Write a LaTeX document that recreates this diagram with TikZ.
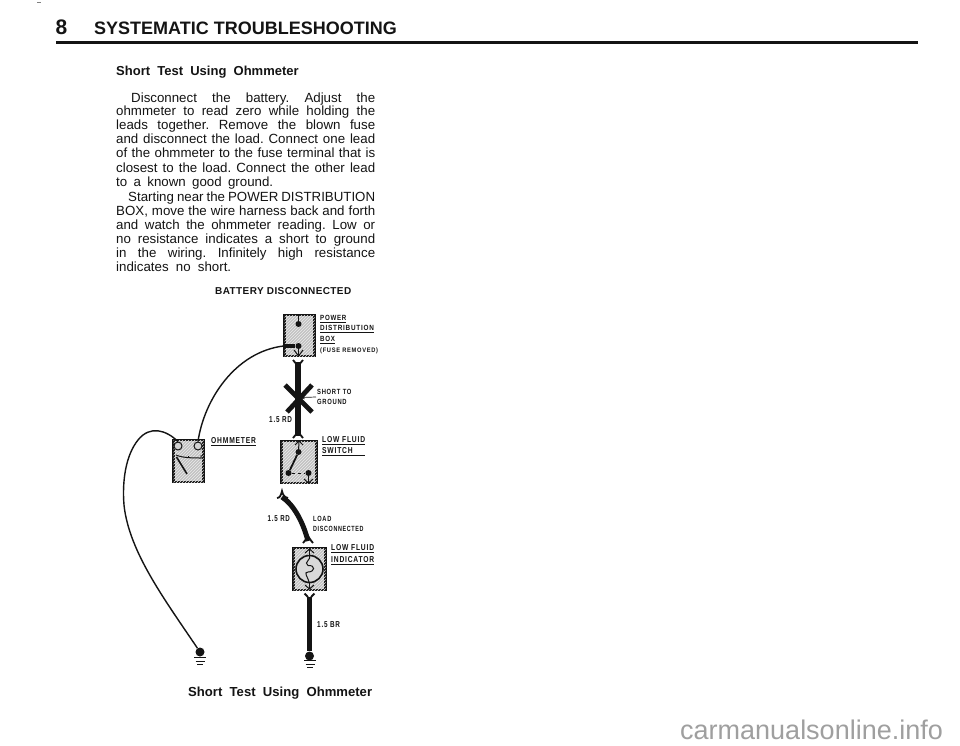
\documentclass[tikz,border=0pt]{standalone}
\usepackage{fontspec}
\setmainfont{Liberation Sans}
\frenchspacing
\usetikzlibrary{patterns}
\definecolor{ink}{gray}{0.08}
\newcommand{\lbl}[2][0.78]{\scalebox{#1}[1]{\addfontfeature{LetterSpace=12}#2}}
\tikzset{
  x=1pt,y=-1pt,
  bodytext/.style={anchor=base west,inner sep=0pt,font=\fontsize{13.3}{14}\selectfont,text=ink},
  free/.style={anchor=west,inner sep=0pt,text=ink},
  small/.style={free,font=\fontsize{7.5}{8}\selectfont\bfseries},
  med/.style={free,font=\fontsize{8.6}{9}\selectfont\bfseries},
  unit/.style={draw=ink,line width=2.1pt,inner sep=0pt,fill=gray!48,
    postaction={pattern=north east lines,pattern color=white!85!gray}},
  wire/.style={draw=ink,line width=5.5pt},
  thin wire/.style={draw=ink,line width=1.4pt},
  inner/.style={draw=ink,line width=1pt},
  fork/.style={draw=ink,line width=1.8pt},
  dot/.style={circle,fill=ink,inner sep=0pt,minimum size=6pt},
  gnddot/.style={circle,fill=ink,inner sep=0pt,minimum size=9pt},
  term/.style={circle,draw=ink,line width=1pt,fill=gray!35,inner sep=0pt,minimum size=8pt},
}
\begin{document}
\begin{tikzpicture}
\useasboundingbox (0,0) rectangle (960,746);
\fill[white] (0,0) rectangle (960,746);
\coordinate (sm1) at (37,2); \coordinate (sm2) at (41,2);
\draw[gray,line width=.6pt] (sm1) -- (sm2);
% header
\node[free,font=\fontsize{21}{22}\selectfont\bfseries] (pg) at (55.5,27.5) {8};
\node[free,font=\fontsize{18}{20}\selectfont\bfseries] (hd) at (94,28.5) {SYSTEMATIC TROUBLESHOOTING};
\coordinate (ruleA) at (56,42.3); \coordinate (ruleB) at (918,42.3);
\draw[ink,line width=2.6pt] (ruleA) -- (ruleB);
\node[free,font=\fontsize{13}{14}\selectfont\bfseries] (st) at (116,72.5) {Short\ \ Test\ \ Using\ \ Ohmmeter};
% body
\node[bodytext] (l1) at (131,103) {\makebox[244pt][s]{Disconnect the battery. Adjust the}};
\node[bodytext] (l2) at (116,115.5) {\makebox[259pt][s]{ohmmeter to read zero while holding the}};
\node[bodytext] (l3) at (116,129.5) {\makebox[259pt][s]{leads together. Remove the blown fuse}};
\node[bodytext] (l4) at (116,143.5) {\makebox[259pt][s]{and disconnect the load. Connect one lead}};
\node[bodytext] (l5) at (116,158) {\makebox[259pt][s]{of the ohmmeter to the fuse terminal that is}};
\node[bodytext] (l6) at (116,172) {\makebox[259pt][s]{closest to the load. Connect the other lead}};
\node[bodytext] (l7) at (116,186) {\makebox[157pt][s]{to a known good ground.}};
\node[bodytext] (l8) at (128,201.5) {\makebox[247pt][s]{Starting near the POWER DISTRIBUTION}};
\node[bodytext] (l9) at (116,215.5) {\makebox[259pt][s]{BOX, move the wire harness back and forth}};
\node[bodytext] (l10) at (116,229.5) {\makebox[259pt][s]{and watch the ohmmeter reading. Low or}};
\node[bodytext] (l11) at (116,243.5) {\makebox[259pt][s]{no resistance indicates a short to ground}};
\node[bodytext] (l12) at (116,257.5) {\makebox[259pt][s]{in the wiring. Infinitely high resistance}};
\node[bodytext] (l13) at (116,271.5) {\makebox[115pt][s]{indicates no short.}};
\node[free,font=\fontsize{10}{11}\selectfont\bfseries] (bd) at (215,291) {\addfontfeature{LetterSpace=4}BATTERY DISCONNECTED};
% units
\node[unit,minimum width=30pt,minimum height=41pt] (pdb) at (299.5,335.5) {};
\node[unit,minimum width=30pt,minimum height=42pt] (ohm) at (188.5,461) {};
\node[unit,minimum width=35pt,minimum height=42pt] (lfs) at (299,462) {};
\node[unit,minimum width=32pt,minimum height=42pt] (lfi) at (309.5,569) {};
% power box inside
\node[dot] (p1) at (298.5,324) {};
\node[dot] (p2) at (298.5,346) {};
\coordinate (ptop) at (298.5,315);
\coordinate (pbot) at (298.5,356);
\draw[inner] (ptop) -- (p1);
\draw[inner] (p2) -- (pbot);
\draw[inner] (294,350) -- (pbot) -- (303,350);
% wire 1
\coordinate (w1a) at (298,362);
\coordinate (w1b) at (298,436);
\draw[wire] (w1a) -- (w1b);
\draw[fork] (293,360) .. controls (295,362) and (296,364) .. (298,366) .. controls (300,364) and (301,362) .. (303,360);
\draw[fork] (293,438) .. controls (295,436) and (296,434) .. (298,432) .. controls (300,434) and (301,436) .. (303,438);
% X short
\coordinate (xa) at (285,385); \coordinate (xb) at (312,412);
\coordinate (xc) at (312,385); \coordinate (xd) at (287,412);
\draw[ink,line width=4.8pt] (xa) -- (xb);
\draw[ink,line width=4.8pt] (xc) -- (xd);
\coordinate (xm) at (301,397.5);
\coordinate (xl) at (316,397);
\draw[-{stealth},ink,line width=.7pt] (xl) -- (xm);
\node[small] (sg1) at (317,392) {\lbl{SHORT TO}};
\node[small] (sg2) at (317,402) {\lbl{GROUND}};
\node[med] (r1) at (269,420) {\lbl[.74]{1.5 RD}};
% ohmmeter
\node[term] (t1) at (178,446) {};
\node[term] (t2) at (198,446) {};
\draw[inner] (176,455) .. controls (182,458) and (195,458) .. (201,458) -- (201,455);
\draw[inner] (188,456) -- (188,458);
\coordinate (np) at (187,474); \coordinate (nq) at (176.5,457);
\draw[ink,line width=1.6pt] (np) -- (nq);
\node[med] (ol) at (211,442) {\underline{\lbl{OHMMETER}}};
% low fluid switch
\coordinate (stop) at (299,441);
\node[dot] (s1) at (298.5,452) {};
\node[dot] (s2) at (288.5,473) {};
\node[dot] (s3) at (308.5,473) {};
\coordinate (sbot) at (308.5,483);
\draw[inner] (stop) -- (s1);
\draw[inner] (295,445) -- (stop) -- (303,445);
\draw[ink,line width=1.8pt] (s1) -- (s2);
\draw[inner,dashed] (s2) -- (s3);
\draw[inner] (s3) -- (sbot);
\draw[inner] (304,479) -- (sbot) -- (313,479);
\node[med] (lf1) at (322,441) {\underline{\lbl{LOW FLUID}}};
\node[med] (lf2) at (322,452) {\underline{\makebox[43pt][l]{\lbl{SWITCH}}}};
% load wire
\coordinate (w2a) at (282,497);
\coordinate (w2b) at (308,541);
\draw[ink,line width=5pt] (w2a) .. controls (294,505) and (303,522) .. (w2b);
\draw[fork] (277,498) .. controls (280,498) and (281,495) .. (282,491) .. controls (283,495) and (284,497) .. (288,498);
\draw[fork] (303,543) .. controls (305,541) and (306,539) .. (308,536) .. controls (310,539) and (311,541) .. (313,543);
\node[med] (r2) at (267.5,519) {\lbl[.72]{1.5 RD}};
\node[small] (ld1) at (313,519) {\lbl[.76]{LOAD}};
\node[small] (ld2) at (313,528.5) {\lbl[.72]{DISCONNECTED}};
% indicator
\coordinate (itop) at (309.5,549);
\coordinate (ibot) at (309.5,589);
\node[circle,draw=ink,line width=1.6pt,inner sep=0pt,minimum size=27pt,fill=gray!30] (gauge) at (309.5,569) {};
\draw[inner] (itop) -- (gauge.north);
\draw[inner] (305,553) -- (itop) -- (314,553);
\draw[inner] (gauge.south) -- (ibot);
\draw[inner] (305,585) -- (ibot) -- (314,585);
\draw[inner] (gauge.north) .. controls (312,560) and (303,562) .. (308,565.5) .. controls (316,565) and (315,572) .. (308,572) .. controls (303,572) and (308,577) .. (gauge.south);
\node[med] (li1) at (331,549) {\underline{\lbl{LOW FLUID}}};
\node[med] (li2) at (331,561) {\underline{\lbl{INDICATOR}}};
% brown wire and grounds
\node[gnddot] (g2) at (309.5,656) {};
\coordinate (w3a) at (309.5,597);
\draw[wire] (w3a) -- (g2);
\draw[fork] (304.5,593.5) .. controls (306.5,595) and (308,597) .. (309.5,600) .. controls (311,597) and (312.5,595) .. (314.5,593.5);
\node[med] (br) at (317,625) {\lbl[.74]{1.5 BR}};
\draw[ink,line width=1pt] (304,660.5) -- (316,660.5) (305.5,664) -- (314.5,664) (307,667.5) -- (313,667.5);
\node[gnddot] (g1) at (200,652) {};
\draw[ink,line width=1pt] (194,657.5) -- (206,657.5) (195.5,661) -- (204.5,661) (197,664.5) -- (203,664.5);
% long wires
\draw[thin wire] (t2.north) .. controls (204,400) and (235,352) .. (pdb.west |- p2);
\draw[ink,line width=3.4pt] (pdb.west |- p2) -- (p2);
\draw[thin wire] (t1.north) .. controls (166,430) and (150,425) .. (138,440) .. controls (126,455) and (122,480) .. (124,505) .. controls (129,552) and (165,600) .. (g1);
% power labels
\node[small] (pw1) at (320,319) {\underline{\lbl[.82]{POWER}}};
\node[small] (pw2) at (320,329) {\underline{\lbl[.85]{DISTRIBUTION}}};
\node[small] (pw3) at (320,340) {\underline{\lbl[.82]{BOX}}};
\node[small,font=\fontsize{6.5}{7}\selectfont\bfseries] (pw4) at (320,351) {\lbl[.88]{(FUSE REMOVED)}};
% caption
\node[free,font=\fontsize{13.1}{14}\selectfont\bfseries] (cap) at (188,693) {Short\ \ Test\ \ Using\ \ Ohmmeter};
% watermark
\node[free,font=\fontsize{27}{28}\selectfont,text=gray!75] (wm) at (680,730) {carmanualsonline.info};
\end{tikzpicture}
\end{document}
